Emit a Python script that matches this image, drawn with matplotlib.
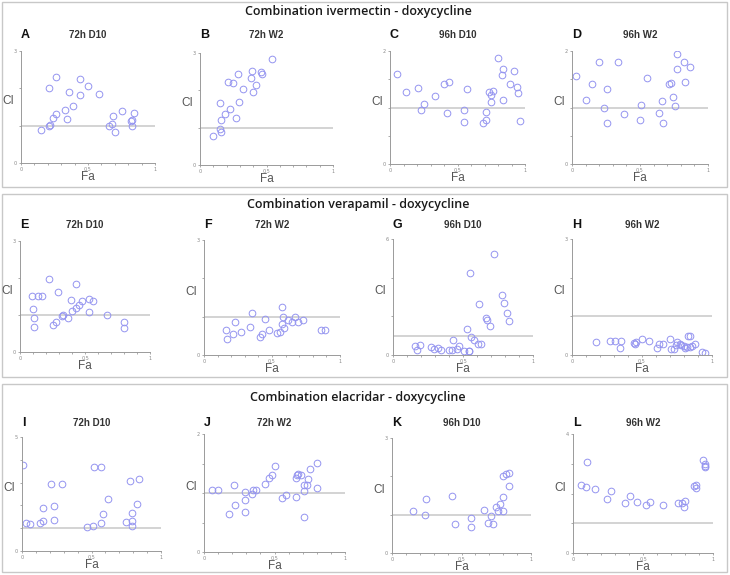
import matplotlib
matplotlib.use("Agg")
import matplotlib.pyplot as plt
from matplotlib.patches import Rectangle

# ---- data (Fa, CI) ----
a_fa = [0.15, 0.21, 0.22, 0.21, 0.24, 0.26, 0.26, 0.33, 0.34, 0.36, 0.39, 0.44, 0.44, 0.50, 0.58, 0.66, 0.68, 0.69, 0.75, 0.70, 0.82, 0.83, 0.84, 0.83]
a_ci = [0.89, 0.99, 1.02, 2.00, 1.20, 1.30, 2.30, 1.43, 1.19, 1.89, 1.52, 2.25, 1.83, 2.07, 1.85, 0.99, 1.05, 1.25, 1.40, 0.82, 1.12, 1.16, 1.34, 0.98]

b_fa = [0.10, 0.155, 0.15, 0.15, 0.16, 0.19, 0.225, 0.21, 0.25, 0.27, 0.285, 0.29, 0.325, 0.385, 0.39, 0.40, 0.42, 0.46, 0.465, 0.54]
b_ci = [0.79, 0.89, 0.97, 1.67, 1.21, 1.37, 1.51, 2.21, 2.20, 1.26, 2.45, 1.69, 2.03, 2.34, 2.52, 1.96, 2.15, 2.50, 2.45, 2.83]

c_fa = [0.05, 0.12, 0.21, 0.23, 0.25, 0.33, 0.40, 0.44, 0.42, 0.55, 0.55, 0.57, 0.69, 0.71, 0.71, 0.73, 0.75, 0.765, 0.75, 0.80, 0.84, 0.83, 0.84, 0.89, 0.92, 0.94, 0.95, 0.965]
c_ci = [1.60, 1.27, 1.35, 0.96, 1.07, 1.20, 1.41, 1.46, 0.91, 0.95, 0.74, 1.32, 0.73, 0.78, 0.92, 1.27, 1.23, 1.29, 1.09, 1.87, 1.68, 1.58, 1.13, 1.41, 1.64, 1.36, 1.26, 0.76]

d_fa = [0.03, 0.10, 0.145, 0.20, 0.26, 0.235, 0.255, 0.34, 0.38, 0.50, 0.51, 0.55, 0.64, 0.66, 0.67, 0.71, 0.73, 0.74, 0.755, 0.77, 0.77, 0.82, 0.83, 0.87]
d_ci = [1.56, 1.13, 1.42, 1.81, 1.33, 0.99, 0.72, 1.81, 0.88, 0.78, 1.05, 1.52, 0.91, 1.11, 0.73, 1.41, 1.44, 1.19, 1.02, 1.68, 1.95, 1.80, 1.45, 1.72]

e_fa = [0.095, 0.10, 0.11, 0.11, 0.14, 0.17, 0.22, 0.25, 0.28, 0.29, 0.32, 0.33, 0.37, 0.39, 0.40, 0.43, 0.43, 0.45, 0.48, 0.53, 0.53, 0.56, 0.67, 0.80, 0.80]
e_ci = [1.52, 1.16, 0.93, 0.67, 1.52, 1.51, 1.98, 0.73, 0.81, 1.61, 0.98, 1.00, 0.93, 1.41, 1.11, 1.19, 1.83, 1.27, 1.37, 1.08, 1.42, 1.38, 0.99, 0.80, 0.66]

f_fa = [0.16, 0.17, 0.21, 0.23, 0.27, 0.34, 0.35, 0.41, 0.43, 0.45, 0.48, 0.54, 0.56, 0.57, 0.57, 0.58, 0.59, 0.62, 0.65, 0.67, 0.69, 0.73, 0.86, 0.89]
f_ci = [0.66, 0.43, 0.55, 0.86, 0.61, 0.73, 1.10, 0.48, 0.54, 0.93, 0.65, 0.57, 0.61, 0.82, 1.24, 0.98, 0.71, 0.92, 0.85, 0.99, 0.85, 0.92, 0.64, 0.65]

g_fa = [0.16, 0.17, 0.19, 0.27, 0.29, 0.32, 0.34, 0.40, 0.42, 0.43, 0.46, 0.47, 0.51, 0.53, 0.54, 0.545, 0.55, 0.56, 0.58, 0.615, 0.61, 0.63, 0.665, 0.67, 0.69, 0.72, 0.78, 0.79, 0.815, 0.83]
g_ci = [0.45, 0.26, 0.54, 0.43, 0.33, 0.36, 0.28, 0.28, 0.28, 0.78, 0.31, 0.47, 0.22, 1.33, 0.21, 0.21, 4.24, 0.93, 0.78, 2.66, 0.59, 0.57, 1.92, 1.80, 1.49, 5.22, 3.11, 2.70, 2.16, 1.75]

h_fa = [0.17, 0.27, 0.31, 0.34, 0.35, 0.44, 0.45, 0.46, 0.50, 0.55, 0.61, 0.62, 0.65, 0.70, 0.71, 0.73, 0.74, 0.75, 0.77, 0.78, 0.80, 0.81, 0.82, 0.83, 0.84, 0.845, 0.86, 0.88, 0.93, 0.95]
h_ci = [0.34, 0.36, 0.36, 0.18, 0.36, 0.30, 0.28, 0.33, 0.42, 0.37, 0.18, 0.28, 0.28, 0.41, 0.15, 0.15, 0.25, 0.33, 0.29, 0.27, 0.23, 0.19, 0.21, 0.50, 0.49, 0.20, 0.24, 0.28, 0.07, 0.05]

i_fa = [0.005, 0.03, 0.06, 0.13, 0.15, 0.15, 0.21, 0.23, 0.23, 0.29, 0.47, 0.51, 0.52, 0.57, 0.57, 0.58, 0.62, 0.75, 0.78, 0.79, 0.79, 0.79, 0.825, 0.84]
i_ci = [3.78, 1.25, 1.17, 1.22, 1.31, 1.88, 2.93, 1.98, 1.36, 2.94, 1.06, 1.09, 3.69, 3.69, 1.21, 1.62, 2.29, 1.27, 3.05, 1.65, 1.31, 1.09, 2.06, 3.15]

j_fa = [0.06, 0.10, 0.18, 0.21, 0.22, 0.29, 0.29, 0.29, 0.34, 0.35, 0.37, 0.43, 0.46, 0.48, 0.50, 0.55, 0.58, 0.65, 0.65, 0.66, 0.67, 0.69, 0.71, 0.71, 0.71, 0.73, 0.74, 0.75, 0.80, 0.80]
j_ci = [1.05, 1.05, 0.65, 1.14, 0.79, 1.01, 0.88, 0.68, 0.99, 1.05, 1.05, 1.16, 1.25, 1.30, 1.46, 0.92, 0.96, 0.94, 1.25, 1.30, 1.33, 1.31, 1.13, 1.03, 0.59, 1.14, 1.24, 1.41, 1.09, 1.51]

k_fa = [0.15, 0.235, 0.245, 0.43, 0.45, 0.57, 0.57, 0.66, 0.69, 0.71, 0.73, 0.75, 0.765, 0.78, 0.80, 0.80, 0.80, 0.82, 0.84, 0.84]
k_ci = [1.10, 1.00, 1.42, 1.50, 0.76, 0.91, 0.69, 1.11, 0.77, 0.97, 0.76, 1.21, 1.10, 1.29, 1.09, 1.47, 2.02, 2.05, 2.09, 1.76]

l_fa = [0.055, 0.09, 0.10, 0.155, 0.24, 0.27, 0.37, 0.41, 0.46, 0.52, 0.55, 0.645, 0.75, 0.78, 0.79, 0.80, 0.865, 0.875, 0.88, 0.93, 0.94, 0.94, 0.94]
l_ci = [2.28, 2.21, 3.07, 2.15, 1.81, 2.10, 1.69, 1.92, 1.71, 1.63, 1.70, 1.61, 1.69, 1.69, 1.55, 1.75, 2.26, 2.28, 2.19, 3.12, 2.98, 2.92, 2.89]

group_titles = ["Combination ivermectin - doxycycline",
                "Combination verapamil - doxycycline",
                "Combination elacridar - doxycycline"]
letters = ["A", "B", "C", "D", "E", "F", "G", "H", "I", "J", "K", "L"]
panel_titles = ["72h D10", "72h W2", "96h D10", "96h W2"] * 3
y_max = [3, 3, 2, 2, 3, 3, 6, 3, 5, 2, 3, 4]
y_step = [1, 1, 0.5, 0.5, 1, 1, 2, 1, 1, 0.5, 1, 1]
series = [(a_fa, a_ci), (b_fa, b_ci), (c_fa, c_ci), (d_fa, d_ci),
          (e_fa, e_ci), (f_fa, f_ci), (g_fa, g_ci), (h_fa, h_ci),
          (i_fa, i_ci), (j_fa, j_ci), (k_fa, k_ci), (l_fa, l_ci)]

# ---- layout in pixels (left, top, right, bottom) ----
W, H = 730, 575
boxes = [(2, 2, 727, 187), (2, 194, 727, 377), (2, 384, 727, 572)]
title_y = [11, 205, 397]
axes_px = [(21, 51, 155, 163), (200, 53, 333, 165), (390, 51, 525, 164), (572, 51, 708, 164),
           (20, 241, 150, 352), (204, 240, 340, 355), (393, 239, 533, 355), (572, 239, 712, 355),
           (22, 437, 161, 551), (204, 434, 345, 552), (392, 438, 531, 553), (573, 434, 713, 553)]
letter_y = [35, 225, 423]

fig = plt.figure(figsize=(W / 100, H / 100), dpi=100)
fig.patch.set_facecolor("white")


def fx(px):
    return px / W


def fy(py):
    return 1 - py / H


for n, (l, t, r, b) in enumerate(boxes):
    fig.patches.append(Rectangle((fx(l), fy(b)), fx(r - l), (b - t) / H, transform=fig.transFigure,
                                 fill=False, edgecolor="#c8c8c8", linewidth=1))
    fig.text(fx(358), fy(title_y[n]), group_titles[n], ha="center", va="center",
             fontsize=9, fontweight="semibold", family="Open Sans", color="#1a1a1a")

for i, (l, t, r, b) in enumerate(axes_px):
    ax = fig.add_axes([fx(l), fy(b), fx(r - l), (b - t) / H])
    fa, ci = series[i]
    ax.plot([0, 1], [1, 1], color="#c8c8c8", linewidth=1.1, zorder=1)
    ax.plot(fa, ci, linestyle="none", marker="o", markersize=4.8, markerfacecolor="none",
            markeredgecolor="#9494f0", markeredgewidth=0.7, zorder=2)
    ax.set_xlim(0, 1)
    ax.set_ylim(0, y_max[i])
    ax.set_xticks([0, 0.5, 1])
    ax.set_xticklabels(["0", "0.5", "1"])
    ax.set_xticks([k / 10 for k in range(11)], minor=True)
    yt = []
    v = 0
    while v <= y_max[i] + 1e-9:
        yt.append(v)
        v += y_step[i]
    ax.set_yticks(yt)
    ax.set_yticklabels(["0"] + [""] * (len(yt) - 2) + [str(y_max[i])])
    ax.tick_params(axis="both", which="both", labelsize=3.5, colors="#888888",
                   length=1.5, width=0.5, pad=1.5)
    for s in ["top", "right"]:
        ax.spines[s].set_visible(False)
    for s in ["left", "bottom"]:
        ax.spines[s].set_color("#9a9a9a")
        ax.spines[s].set_linewidth(0.7)
    ax.set_facecolor("none")

    row = i // 4
    fig.text(fx(l), fy(letter_y[row]), letters[i], ha="left", va="center",
             fontsize=9, fontweight="bold", family="Liberation Sans", color="#111111")
    fig.text(fx((l + r) / 2), fy(letter_y[row]), panel_titles[i], ha="center", va="center",
             fontsize=7, fontweight="bold", family="Liberation Sans", color="#333333")
    fig.text(fx(l - 13), fy(t + 0.45 * (b - t)), "CI", ha="center", va="center",
             fontsize=8.5, family="Liberation Sans", color="#555555")
    fig.text(fx((l + r) / 2), fy(b + 14), "Fa", ha="center", va="center",
             fontsize=8.5, family="Liberation Sans", color="#555555")

fig.savefig("out.png", dpi=100)
